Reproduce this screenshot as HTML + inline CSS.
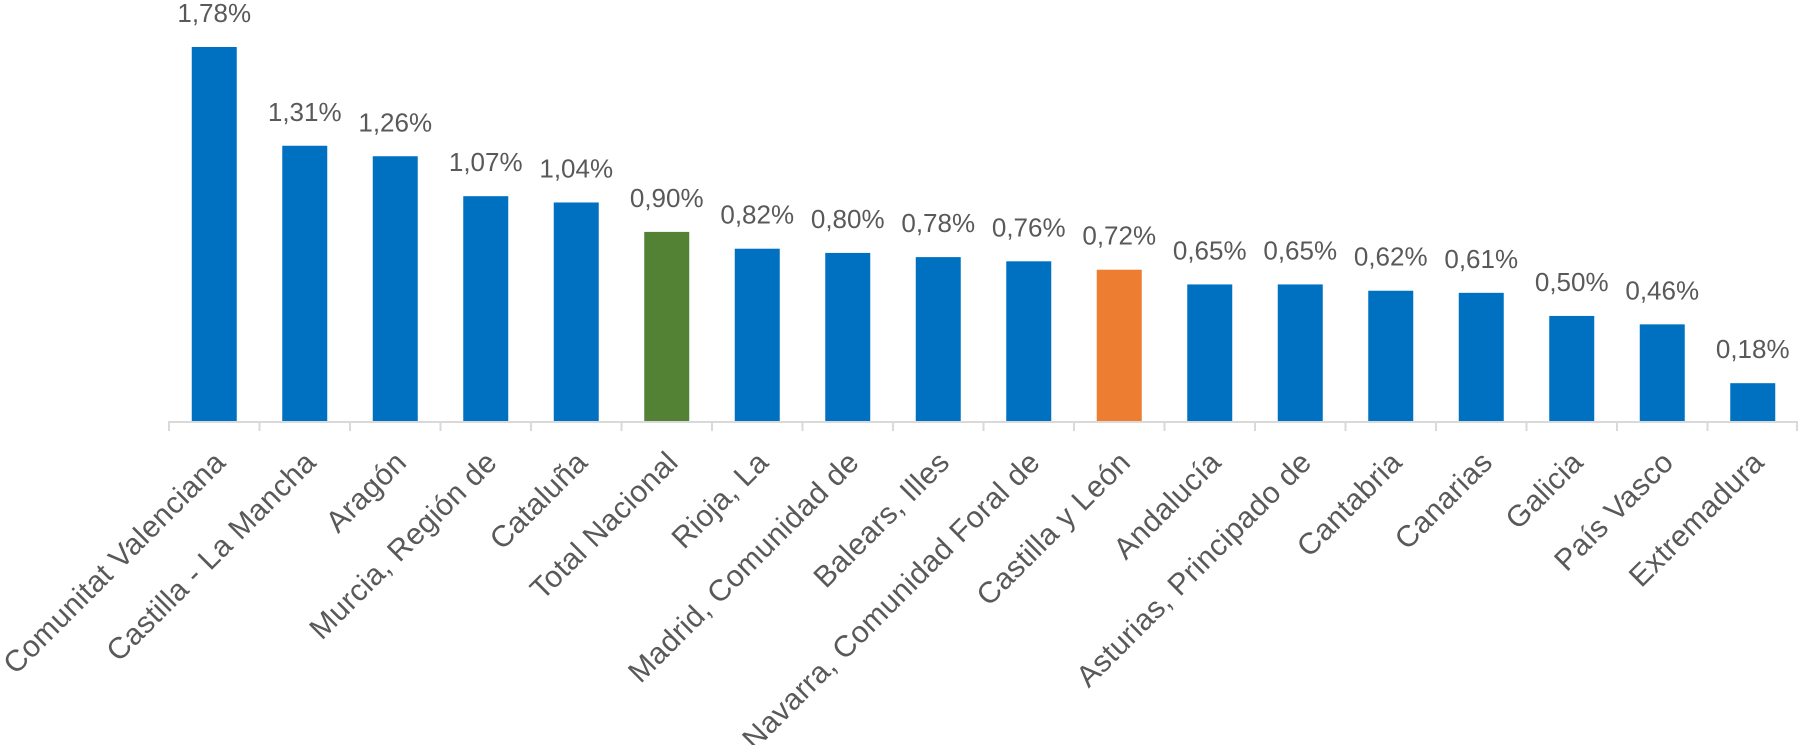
<!DOCTYPE html>
<html><head><meta charset="utf-8"><style>
html,body{margin:0;padding:0;background:#fff;}
svg{display:block;}
text{font-family:"Liberation Sans",sans-serif;fill:#595959;}
</style></head><body>
<svg id="chart" width="1799" height="745" viewBox="0 0 1799 745"></svg>
<script>
const categories = ["Comunitat Valenciana","Castilla - La Mancha","Aragón","Murcia, Región de","Cataluña","Total Nacional","Rioja, La","Madrid, Comunidad de","Balears, Illes","Navarra, Comunidad Foral de","Castilla y León","Andalucía","Asturias, Principado de","Cantabria","Canarias","Galicia","País Vasco","Extremadura"];
const values = [1.78,1.31,1.26,1.07,1.04,0.90,0.82,0.80,0.78,0.76,0.72,0.65,0.65,0.62,0.61,0.50,0.46,0.18];
const valueLabels = ["1,78%","1,31%","1,26%","1,07%","1,04%","0,90%","0,82%","0,80%","0,78%","0,76%","0,72%","0,65%","0,65%","0,62%","0,61%","0,50%","0,46%","0,18%"];
const highlight = {"Total Nacional":"#548235","Castilla y León":"#ED7D31"};

const svg = document.getElementById('chart');
const NS = 'http://www.w3.org/2000/svg';
const x0 = 169, x1 = 1798, baseY = 421, topY = 47, maxV = 1.78;
const step = (x1 - x0) / categories.length;
const barW = 45;
function xScale(i){ return x0 + step * (i + 0.5); }
function yScale(v){ return baseY - (v / maxV) * (baseY - topY); }
function mk(tag, attrs){ const e = document.createElementNS(NS, tag); for (const k in attrs) e.setAttribute(k, attrs[k]); svg.appendChild(e); return e; }

categories.forEach((c, i) => {
  const cx = xScale(i), y = yScale(values[i]);
  const r = mk('rect', {x: cx - barW/2, y: y, width: barW, height: baseY - y, fill: highlight[c] || '#0070C0'});
  
  
  const t = mk('text', {x: cx, y: y - 25, 'text-anchor': 'middle', 'font-size': 26});
  t.textContent = valueLabels[i];
  
  
  const ax_ = cx + 13, ay_ = 464;
  const l = mk('text', {x: ax_, y: ay_, 'text-anchor': 'end', 'font-size': 30, 'letter-spacing': 0.4, transform: 'rotate(-45 ' + ax_ + ' ' + ay_ + ')'});
  l.textContent = c;
  
  
});
const ax = mk('line', {x1: x0, y1: baseY + 1, x2: x1, y2: baseY + 1, stroke: '#D9D9D9', 'stroke-width': 2});


for (let i = 0; i <= categories.length; i++) {
  const tx = Math.min(x0 + step * i, x1 - 1);
  const tk = mk('line', {x1: tx, y1: baseY, x2: tx, y2: baseY + 10, stroke: '#D9D9D9', 'stroke-width': 2});
  
  
}
</script>
</body></html>
